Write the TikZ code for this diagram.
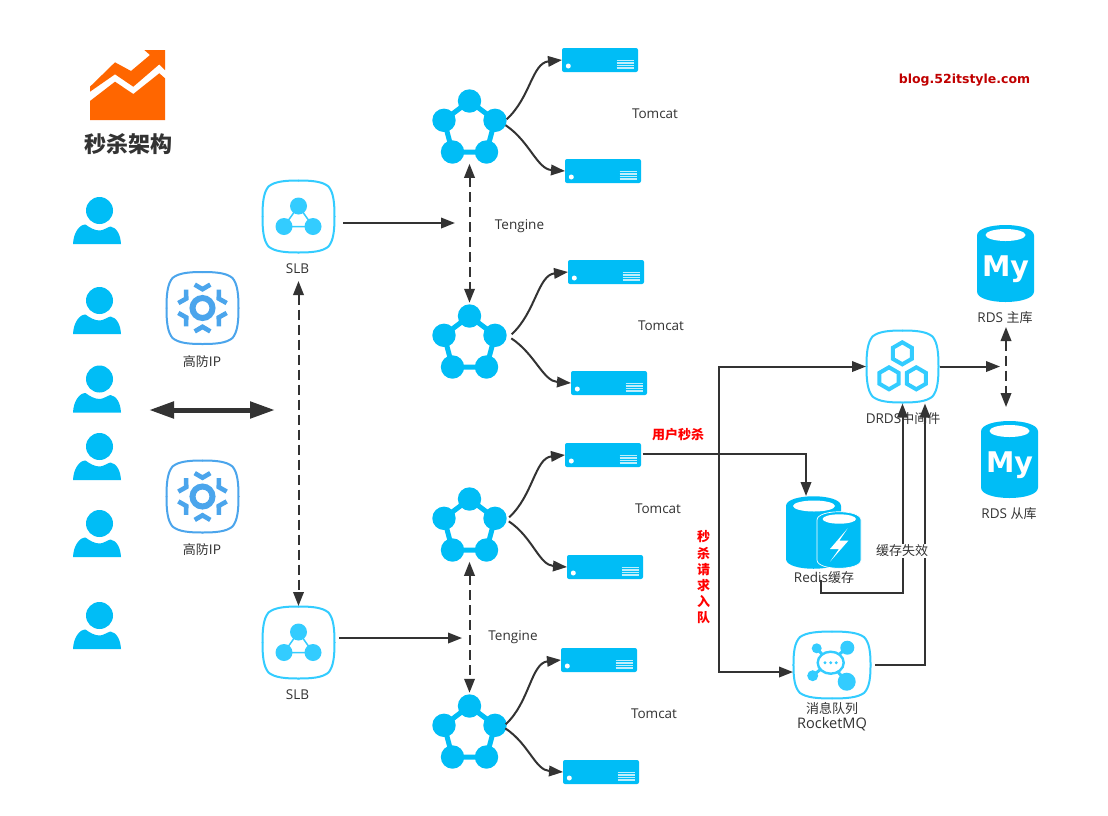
\documentclass[tikz,border=0pt]{standalone}
\usepackage{fontspec}
\setmainfont[Scale=1.04]{Open Sans}
\newfontfamily\cjk{Noto Sans CJK SC}
\newfontfamily\iconfont{DejaVu Sans}
\usetikzlibrary{arrows.meta,calc}
\definecolor{skyColor}{RGB}{0,189,246}
\definecolor{boxColor}{RGB}{51,204,255}
\definecolor{gearColor}{RGB}{75,165,236}
\definecolor{lineColor}{RGB}{51,51,51}
\definecolor{logoColor}{RGB}{255,102,0}
\tikzset{
  lbl/.style={text=lineColor,inner sep=0pt,outer sep=0pt,yshift=-1pt,font=\fontsize{13}{16}\selectfont},
  redlbl/.style={text=red,inner sep=0pt,outer sep=0pt,font=\cjk\bfseries\fontsize{13}{16}\selectfont},
  arr/.style={draw=lineColor,line width=2pt,-{Triangle[length=14pt,width=10.5pt]}},
  plain/.style={draw=lineColor,line width=2pt},
  dasharr/.style={draw=lineColor,line width=2pt,dash pattern=on 10pt off 5pt,
    {Triangle[length=14pt,width=10.5pt]}-{Triangle[length=14pt,width=10.5pt]}},
  srv/.style={fill=skyColor,rounded corners=2pt,minimum width=76pt,minimum height=24pt,inner sep=0pt,outer sep=0pt},
  dot/.style={circle,fill=#1,inner sep=0pt,outer sep=0pt,minimum size=23.4pt},
  hit/.style={inner sep=0pt,outer sep=0pt,minimum width=#1,minimum height=#1},
  pics/person/.style={code={
    \fill[skyColor] (0,0) circle (13.5pt);
    \fill[skyColor] (-26.5,33.5) .. controls (-26,22) and (-20,14) .. (-14,14)
      .. controls (-10,17) and (-5,20) .. (0,20)
      .. controls (4,20) and (7,17) .. (11,16)
      .. controls (17,17) and (21,24) .. (21.5,33.5) -- cycle;
  }},
  pics/squircle/.style={code={
    \foreach \a in {0,90,180,270}
      \draw[#1,line width=2pt,line cap=round,rotate=\a] (0,-36) .. controls (14,-36) and (24,-35) .. (30,-30)
        .. controls (35,-24) and (36,-14) .. (36,0);
  }},
  pics/gear/.style={code={
    \draw[gearColor,line width=6pt] (0,0) circle (10pt);
    \foreach \a in {0,60,...,300}
      \draw[gearColor,line width=4.6pt,rotate=\a] (-7.8,-23.4) -- (0,-18.8) -- (7.8,-23.4);
  }},
  pics/tri/.style={code={
    \draw[boxColor,line width=1.5pt] (0,-10.5) -- (-14.5,10) -- (14.5,10) -- cycle;
    \fill[boxColor] (0,-10.5) circle (8.5pt) (-14.5,10) circle (8.5pt) (14.5,10) circle (8.5pt);
  }},
  pics/penta/.style={code={
    \node[hit=76pt] (-hub) at (0,1.75) {};
    \draw[skyColor,line width=5pt] (0,-23) -- (25.5,-3.7) -- (17,28) -- (-17,28) -- (-25.5,-3.7) -- cycle;
    \node[dot=skyColor] (-t) at (0,-23) {};
    \node[dot=skyColor] (-r) at (25.5,-3.7) {};
    \node[dot=skyColor] (-l) at (-25.5,-3.7) {};
    \node[dot=skyColor] (-a) at (-17,28) {};
    \node[dot=skyColor] (-b) at (17,28) {};
  }},
  pics/hexa/.style={code={
    \draw[boxColor,line width=4pt] (90:11pt) -- (30:11pt) -- (-30:11pt) -- (-90:11pt) -- (-150:11pt) -- (150:11pt) -- cycle;
  }},
  pics/rdsdb/.style={code={
    \fill[skyColor] (-28.5,-28) .. controls (-28.5,-42) and (28.5,-42) .. (28.5,-28) -- (28.5,28)
      .. controls (28.5,42) and (-28.5,42) .. (-28.5,28) -- cycle;
    \fill[white] (0,-28.5) ellipse [x radius=20pt,y radius=6pt];
    \node[text=white,inner sep=0pt,font=\iconfont\bfseries\fontsize{28.5}{30}\selectfont] at (0,6) {My};
  }},
}
% one server: name, centre x, centre y
\newcommand{\server}[3]{
  \node[srv] (#1) at (#2,#3) {};
  \fill[white] ($(#1.west)+(6.3,6)$) circle (2.5pt);
  \foreach \k in {0.5,3,5.5,8}
    \draw[white,opacity=0.75,line width=1.2pt] ($(#1.east)+(-21.5,\k)$) -- ($(#1.east)+(-4.5,\k)$);
}
\begin{document}
\begin{tikzpicture}[x=1pt,y=-1pt]
\path[use as bounding box,fill=white] (0,0) rectangle (1108,815);

% logo
\fill[logoColor] (90,86.7) -- (115,62.3) -- (131,71) -- (150,55) -- (144.3,50) -- (165,50) -- (165,70)
  -- (159.3,64.3) -- (133.3,86.7) -- (115,74.3) -- (90,91.7) -- cycle;
\fill[logoColor] (90,101) -- (115,81.7) -- (133.3,94) -- (159.3,73.3) -- (165,78.3) -- (165,120) -- (90,120) -- cycle;
\node[text=lineColor,inner sep=0pt,font=\cjk\bfseries\fontsize{22}{24}\selectfont] (title) at (128,144.5) {秒杀架构};
\node[text={rgb,255:red,192;green,0;blue,0},inner sep=0pt,font=\iconfont\bfseries\fontsize{12.5}{15}\selectfont] (blog) at (964.5,80) {blog.52itstyle.com};

% users
\foreach \y in {210.5,300.5,379,446.5,523.5,615.5}
  \pic at (99.5,\y) {person};

% boxes with icons
\pic at (202.5,308) {squircle=gearColor};
\pic at (202.5,308) {gear};
\pic at (202.5,496.5) {squircle=gearColor};
\pic at (202.5,496.5) {gear};
\node[lbl] (fw1) at (202,361) {\cjk 高防IP};
\node[lbl] (fw2) at (202,549) {\cjk 高防IP};

\node[hit=73pt] (slb1) at (298.5,216.5) {};
\pic at (298.5,216.5) {squircle=boxColor};
\pic at (298.5,216.5) {tri};
\node[lbl] (slb1t) at (297.5,268) {SLB};
\node[hit=73pt] (slb2) at (298.5,642.5) {};
\pic at (298.5,642.5) {squircle=boxColor};
\pic at (298.5,642.5) {tri};
\node[lbl] (slb2t) at (297.5,694) {SLB};

% tengine groups
\pic (p1) at (469.5,124) {penta};
\pic (p2) at (469.5,339) {penta};
\pic (p3) at (469.5,522) {penta};
\pic (p4) at (469.5,729) {penta};
\node[lbl] (ten1) at (519.5,225) {Tengine};
\node[lbl] (ten2) at (513,636) {Tengine};

% servers
\server{s1}{600}{60}
\server{s2}{603}{171}
\server{s3}{606}{272}
\server{s4}{609}{383}
\server{s5}{603}{455}
\server{s6}{605}{567}
\server{s7}{599}{660}
\server{s8}{601}{772}
\node[lbl] (tom1) at (655,113) {Tomcat};
\node[lbl] (tom2) at (661,325) {Tomcat};
\node[lbl] (tom3) at (658,508) {Tomcat};
\node[lbl] (tom4) at (654,713) {Tomcat};

% drds, rds
\node[hit=73pt] (drds) at (902.5,366.5) {};
\pic at (902.5,366.5) {squircle=boxColor};
\pic at (902.3,353.3) {hexa};
\pic at (889,378.3) {hexa};
\pic at (916.3,378.3) {hexa};
\node[lbl] (drdst) at (903,418) {DRDS{\cjk 中间件}};
\node[hit=57pt] (rds1) at (1005.5,263.5) {};
\pic at (1005.5,263.5) {rdsdb};
\node[lbl] (rds1t) at (1005,317) {RDS {\cjk 主库}};
\node[hit=57pt] (rds2) at (1009.5,459.5) {};
\pic at (1009.5,459.5) {rdsdb};
\node[lbl] (rds2t) at (1009,513) {RDS {\cjk 从库}};

% redis
\fill[skyColor] (786,506) .. controls (786,493) and (841,493) .. (841,506) -- (841,559)
  .. controls (841,572) and (786,572) .. (786,559) -- cycle;
\fill[white] (814,506) ellipse [x radius=21pt,y radius=5.5pt];
\filldraw[fill=skyColor,draw=white,line width=0.7pt] (817,520) .. controls (817,509) and (861,509) .. (861,520) -- (861,560)
  .. controls (861,571) and (817,571) .. (817,560) -- cycle;
\fill[white] (839.3,519) ellipse [x radius=16.7pt,y radius=4.7pt];
\fill[white] (847.7,528.3) -- (830,549) -- (839,549) -- (830,561.7) -- (848.3,540.7) -- (839.3,540.7) -- cycle;
\node[lbl] (redist) at (824,577) {Redis{\cjk 缓存}};

% rocketmq
\node[hit=67pt,minimum width=78pt] (mq) at (832,665) {};
\begin{scope}[shift={(832,665)},xscale=1.07,yscale=0.93]
\pic[transform shape] at (0,0) {squircle=boxColor};
\end{scope}
\draw[boxColor,line width=3pt] (816.7,648.3) -- (846.7,681.7) (847.3,647.7) -- (812.7,675.7);
\filldraw[fill=white,draw=boxColor,line width=2.4pt] (830.7,662.7) ellipse [x radius=13pt,y radius=11pt];
\fill[boxColor] (816.7,648.3) circle (5pt) (847.3,647.7) circle (7pt) (812.7,675.7) circle (5.5pt) (846.7,681.7) circle (9pt);
\fill[boxColor] (825,662.7) circle (1.6pt) (830.7,662.7) circle (1.6pt) (836.3,662.7) circle (1.6pt);
\node[lbl] (mqt) at (832,708) {\cjk 消息队列};
\node[lbl,font=\fontsize{14}{16}\selectfont] (mqn) at (832,723.5) {RocketMQ};

% connectors
\coordinate (bigl) at (149,410);
\coordinate (bigr) at (275,410);
\draw[draw=lineColor,line width=5pt,{Triangle[length=25pt,width=16pt]}-{Triangle[length=25pt,width=16pt]}] (bigl) -- (bigr);
\draw[dasharr] ([yshift=-28pt]slb1.south) -- (slb2.north);
\coordinate (ten1in) at (455,223);
\coordinate (ten2in) at (462,638);
\draw[arr] ([xshift=8pt,yshift=-6.5pt]slb1.east) -- (ten1in);
\draw[arr] ([xshift=4pt,yshift=4.5pt]slb2.east) -- (ten2in);
\draw[dasharr] (p1-hub.south) -- (p2-hub.north);
\draw[dasharr] (p3-hub.south) -- (p4-hub.north);

\draw[arr] (p1-r.5) .. controls +(24,-22) and +(-30,3) .. (s1.west);
\draw[arr] (p1-r.-25) .. controls +(24,16) and +(-28,-2) .. (s2.west);
\draw[arr] ([xshift=5pt]p2-r.5) .. controls +(24,-22) and +(-30,3) .. (s3.west);
\draw[arr] ([xshift=5pt]p2-r.-15) .. controls +(24,16) and +(-28,-2) .. (s4.west);
\draw[arr] ([xshift=2.5pt]p3-r.5) .. controls +(24,-22) and +(-30,3) .. (s5.west);
\draw[arr] ([xshift=2.5pt]p3-r.-15) .. controls +(24,16) and +(-28,-2) .. (s6.west);
\draw[arr] ([xshift=-1pt]p4-r.5) .. controls +(24,-22) and +(-30,3) .. (s7.west);
\draw[arr] ([xshift=-1pt]p4-r.-15) .. controls +(24,16) and +(-28,-2) .. (s8.west);

\coordinate (fork) at (718.5,454);
\coordinate (redisin) at (806,496);
\coordinate (mqin) at (793,672);
\draw[arr] ([xshift=1.5pt,yshift=1pt]s5.east) -| (redisin);
\draw[arr] (fork) |- (drds.west);
\draw[arr] (fork) |- (mqin);
\draw[arr] ([xshift=1pt]drds.east) -- (1000,366.5);
\coordinate (rdsa) at (1006,327);
\coordinate (rdsb) at (1006,407);
\draw[dasharr] (rdsa) -- (rdsb);
\coordinate (redisout) at (821,580);
\draw[plain] (redisout) |- (880,593);
\draw[arr] (880,593) -| ([yshift=-0.5pt]drds.south);
\draw[arr] ([xshift=4pt]mq.east) -| ([xshift=22.5pt,yshift=-0.5pt]drds.south);

% labels on top of lines
\node[lbl,fill=white,inner ysep=1pt] (miss) at (902,550) {\cjk 缓存失效};
\node[redlbl] (kill) at (678,435) {用户秒杀};
\node[redlbl,align=center,font=\cjk\bfseries\fontsize{13}{16.2}\selectfont] (queue) at (703.5,577.5) {秒\\杀\\请\\求\\入\\队};
\end{tikzpicture}
\end{document}
